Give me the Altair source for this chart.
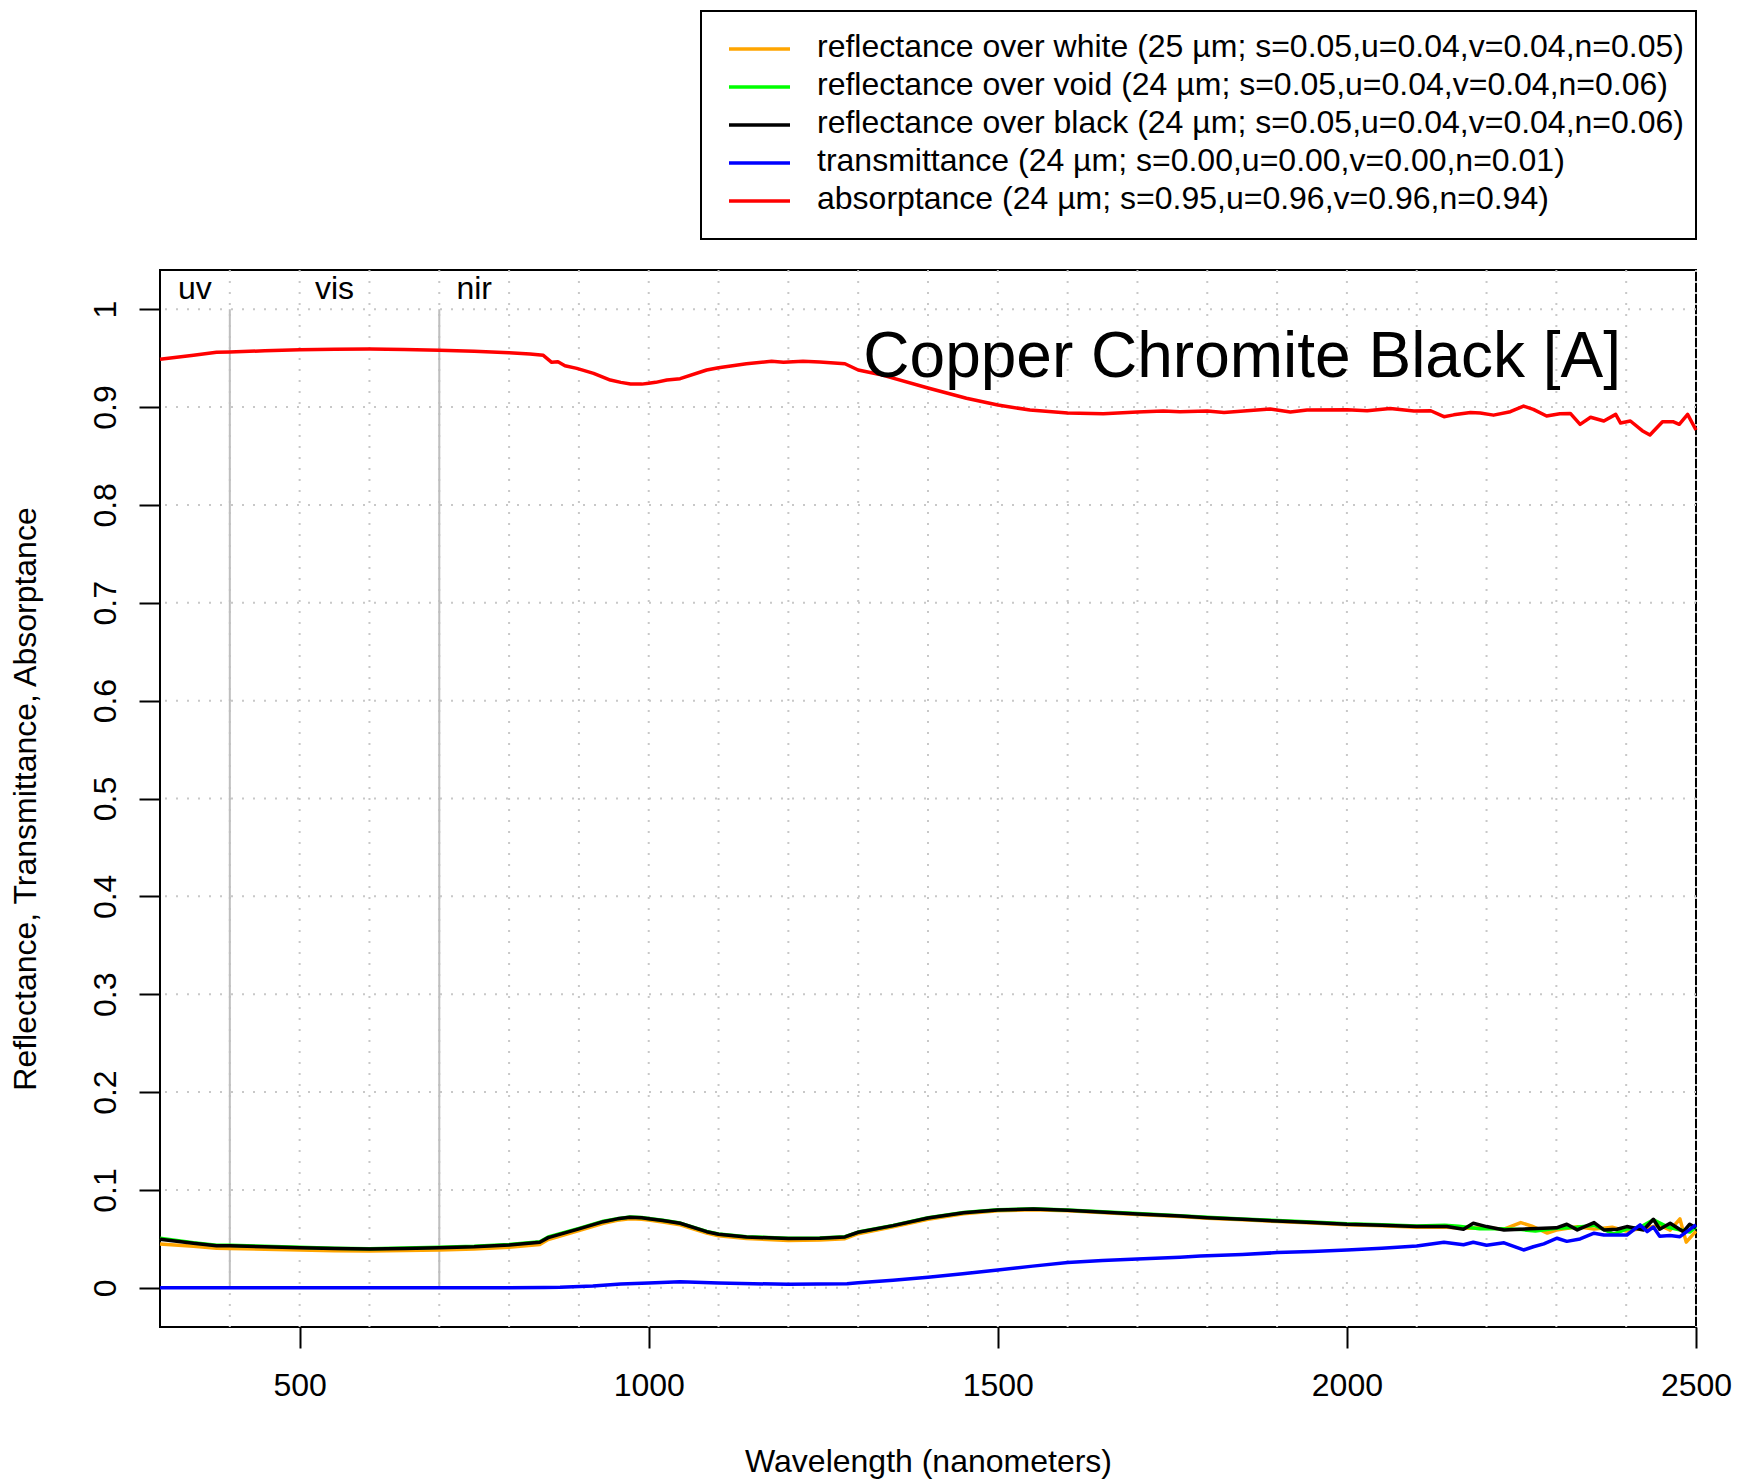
import altair as alt
import pandas as pd

# ---- spectra (wavelength in nm, fraction) ----
wl_white = [300, 348, 381, 400, 450, 500, 550, 600, 650, 700, 750, 800, 844, 856, 900, 935, 955, 973, 990,
            1000, 1020, 1045, 1083, 1100, 1140, 1200, 1245, 1281, 1300, 1350, 1400, 1451, 1500, 1551, 1600,
            1700, 1761, 1800, 1850, 1900, 1950, 2000, 2050, 2100, 2143, 2167, 2200, 2225, 2249, 2265,
            2287, 2300, 2330, 2354, 2380, 2400, 2425, 2448, 2463, 2477, 2486, 2500]
refl_white = [.0449, .0425, .0405, .0403, .0395, .0387, .0380, .0377, .0381, .0388, .0396, .0414, .0444,
              .0493, .0585, .0660, .0690, .0706, .0702, .0693, .0673, .0645, .0560, .0533, .0503, .0485,
              .0488, .0502, .0553, .0623, .0701, .0757, .0787, .0798, .0787, .0750, .0730, .0712, .0695,
              .0677, .0662, .0645, .0635, .0620, .0618, .0608, .0615, .0600, .0667, .0630, .0560, .0590,
              .0625, .0600, .0620, .0580, .0610, .0640, .0590, .0705, .0467, .0580]

wl_void = [300, 348, 381, 400, 450, 500, 550, 600, 650, 700, 750, 800, 844, 856, 900, 935, 955, 973, 990,
           1000, 1020, 1045, 1083, 1100, 1140, 1200, 1245, 1281, 1300, 1350, 1400, 1451, 1500, 1551, 1600,
           1700, 1761, 1800, 1850, 1900, 1950, 2000, 2050, 2100, 2140, 2160, 2190, 2220, 2250, 2270,
           2300, 2330, 2354, 2382, 2400, 2420, 2439, 2460, 2491, 2500]
refl_void = [.0506, .0460, .0436, .0435, .0424, .0414, .0405, .0400, .0406, .0414, .0424, .0442, .0472,
             .0520, .0608, .0680, .0707, .0723, .0718, .0709, .0690, .0662, .0577, .0550, .0523, .0506,
             .0509, .0522, .0570, .0638, .0716, .0770, .0798, .0808, .0796, .0759, .0738, .0721, .0704,
             .0688, .0673, .0655, .0645, .0632, .0640, .0630, .0605, .0605, .0595, .0580, .0610, .0620,
             .0640, .0550, .0600, .0620, .0695, .0620, .0570, .0625]

wl_black = [300, 348, 381, 400, 450, 500, 550, 600, 650, 700, 750, 800, 844, 856, 900, 935, 955, 973, 990,
            1000, 1020, 1045, 1083, 1100, 1140, 1200, 1245, 1281, 1300, 1350, 1400, 1451, 1500, 1551, 1600,
            1700, 1761, 1800, 1850, 1900, 1950, 2000, 2050, 2100, 2143, 2167, 2181, 2200, 2225, 2263,
            2300, 2315, 2330, 2354, 2368, 2387, 2401, 2425, 2439, 2448, 2463, 2482, 2491, 2500]
refl_black = [.0496, .0455, .0431, .0431, .0420, .0411, .0402, .0397, .0403, .0411, .0420, .0438, .0466,
              .0513, .0602, .0676, .0705, .0721, .0716, .0707, .0688, .0660, .0574, .0547, .0520, .0503,
              .0506, .0520, .0568, .0636, .0714, .0768, .0796, .0806, .0793, .0755, .0735, .0717, .0700,
              .0683, .0668, .0650, .0640, .0626, .0626, .0598, .0660, .0626, .0592, .0603, .0613, .0650,
              .0592, .0667, .0592, .0599, .0626, .0592, .0701, .0599, .0660, .0574, .0650, .0613]

wl_trans = [300, 400, 500, 600, 700, 800, 850, 873, 920, 960, 1000, 1045, 1100, 1150, 1200, 1284, 1300,
            1350, 1400, 1450, 1500, 1550, 1600, 1650, 1700, 1761, 1790, 1850, 1900, 1950, 2000, 2050,
            2100, 2139, 2167, 2181, 2200, 2225, 2253, 2267, 2282, 2301, 2315, 2334, 2354, 2368, 2387,
            2401, 2420, 2430, 2439, 2448, 2463, 2477, 2500]
trans = [0, 0, 0, 0, 0, 0, .0003, .0006, .0020, .0040, .0050, .0063, .0050, .0042, .0037, .0043, .0053,
         .0078, .0108, .0145, .0183, .0222, .0258, .0280, .0295, .0313, .0326, .0342, .0360, .0372, .0387,
         .0405, .0428, .0466, .0440, .0466, .0435, .0460, .0387, .0420, .0450, .0507, .0475, .0500, .0558,
         .0540, .0540, .0540, .0643, .0575, .0622, .0528, .0535, .0523, .0643]

wl_abs = [300, 348, 381, 400, 450, 500, 550, 600, 650, 700, 750, 800, 830, 849, 861, 870, 880, 897, 921,
          945, 960, 974, 990, 1000, 1010, 1026, 1045, 1083, 1100, 1140, 1176, 1193, 1221, 1245, 1281, 1300,
          1331, 1400, 1455, 1500, 1546, 1600, 1651, 1700, 1737, 1761, 1800, 1824, 1857, 1890, 1919, 1943,
          2000, 2029, 2062, 2096, 2120, 2139, 2153, 2177, 2191, 2210, 2234, 2253, 2267, 2286, 2305, 2320,
          2334, 2349, 2368, 2385, 2392, 2406, 2423, 2434, 2452, 2467, 2476, 2488, 2500]
absorb = [.9487, .9528, .9559, .9562, .9575, .9586, .9590, .9592, .9587, .9579, .9570, .9555, .9542, .9528,
          .9457, .9462, .9422, .9395, .9344, .9276, .9252, .9235, .9234, .9242, .9252, .9276, .9290, .9378,
          .9402, .9442, .9467, .9457, .9467, .9460, .9442, .9378, .9333, .9194, .9089, .9020, .8969, .8939,
          .8932, .8949, .8959, .8952, .8959, .8945, .8962, .8980, .8949, .8970, .8973, .8962, .8986, .8959,
          .8962, .8901, .8920, .8945, .8938, .8917, .8952, .9010, .8976, .8908, .8932, .8935, .8823, .8895,
          .8857, .8925, .8836, .8857, .8758, .8714, .8850, .8850, .8823, .8925, .8765]

series_labels = [
    "reflectance over white (25 µm; s=0.05,u=0.04,v=0.04,n=0.05)",
    "reflectance over void (24 µm; s=0.05,u=0.04,v=0.04,n=0.06)",
    "reflectance over black (24 µm; s=0.05,u=0.04,v=0.04,n=0.06)",
    "transmittance (24 µm; s=0.00,u=0.00,v=0.00,n=0.01)",
    "absorptance (24 µm; s=0.95,u=0.96,v=0.96,n=0.94)",
]
series_colors = ["#FFA500", "#00FF00", "#000000", "#0000FF", "#FF0000"]
series_data = [(wl_white, refl_white), (wl_void, refl_void), (wl_black, refl_black),
               (wl_trans, trans), (wl_abs, absorb)]

grid_x = list(range(400, 2501, 100))
grid_y = [0, 0.1, 0.2, 0.3, 0.4, 0.5, 0.6, 0.7, 0.8, 0.9, 1]
x_ticks = [500, 1000, 1500, 2000, 2500]
region_bounds = [400, 700]
region_names = ["uv", "vis", "nir"]
region_centers = [350, 550, 750]
title_text = "Copper Chromite Black [A]"

# ---- layout ----
FONT = "Liberation Sans"
W, H = 1536, 1057
PAD = {"left": 160, "top": 270, "right": 49, "bottom": 154}
X_DOM = [300, 2500]
Y_DOM = [-0.04, 1.04]


def y_at(canvas_px):
    """Data value that sits at a given canvas row."""
    return Y_DOM[1] - (canvas_px - PAD["top"]) / H * (Y_DOM[1] - Y_DOM[0])


xs = alt.Scale(domain=X_DOM, nice=False, zero=False)
ys = alt.Scale(domain=Y_DOM, nice=False, zero=False)

x_axis = alt.Axis(values=x_ticks, format="d", grid=False, domain=False, tickColor="black",
                  tickWidth=2, tickSize=21, labelFont=FONT, labelFontSize=32, labelColor="black",
                  labelBaseline="alphabetic", labelPadding=47, labelFlush=False, labelOverlap=False,
                  title="Wavelength (nanometers)", titleFont=FONT, titleFontSize=32,
                  titleFontWeight="normal", titleColor="black", titleX=W / 2, titleY=144,
                  titleAlign="center", titleBaseline="alphabetic")
y_axis = alt.Axis(values=grid_y, format="~g", grid=False, domain=False, tickColor="black",
                  tickWidth=2, tickSize=21, labelFont=FONT, labelFontSize=32, labelColor="black",
                  labelAngle=270, labelAlign="center", labelBaseline="alphabetic", labelPadding=24,
                  labelFlush=False, labelOverlap=False,
                  title="Reflectance, Transmittance, Absorptance", titleFont=FONT, titleFontSize=32,
                  titleFontWeight="normal", titleColor="black", titleAngle=270, titleX=-125,
                  titleY=H / 2, titleAlign="center", titleBaseline="alphabetic")


def X(field):
    return alt.X(field, type="quantitative", scale=xs, axis=x_axis)


def Y(field):
    return alt.Y(field, type="quantitative", scale=ys, axis=y_axis)


layers = []

# dotted grid
gx = alt.Chart(pd.DataFrame({"x": grid_x})).mark_rule(
    color="#c8c8c8", strokeWidth=2, strokeDash=[2, 9]).encode(x=X("x"))
gy = alt.Chart(pd.DataFrame({"y": grid_y})).mark_rule(
    color="#c8c8c8", strokeWidth=2, strokeDash=[2, 9]).encode(y=Y("y"))
layers += [gx, gy]

# uv / vis / nir boundaries
bounds = alt.Chart(pd.DataFrame({"x": region_bounds, "y0": [0] * 2, "y1": [1] * 2})).mark_rule(
    color="#bebebe", strokeWidth=2).encode(x=X("x"), y=Y("y0"), y2="y1:Q")
layers.append(bounds)

# spectra
for (wl, vals), color in zip(series_data, series_colors):
    d = pd.DataFrame({"wl": wl, "v": vals})
    layers.append(
        alt.Chart(d).mark_line(color=color, strokeWidth=3.5, strokeJoin="round").encode(
            x=X("wl"), y=Y("v"), order="wl:Q"))

# region labels
reg = alt.Chart(pd.DataFrame({"x": region_centers, "y": [y_at(299)] * 3, "t": region_names})).mark_text(
    font=FONT, fontSize=32, color="black", align="center", baseline="alphabetic").encode(
    x=X("x"), y=Y("y"), text="t:N")
layers.append(reg)

# sample name
ttl = alt.Chart(pd.DataFrame({"x": [1850], "y": [y_at(376.5)], "t": [title_text]})).mark_text(
    font=FONT, fontSize=64, color="black", align="center", baseline="alphabetic").encode(
    x=X("x"), y=Y("y"), text="t:N")
layers.append(ttl)

# legend box
leg_rows = [y_at(49 + 38 * i) for i in range(len(series_labels))]
leg_df = pd.DataFrame({"label": series_labels, "color": series_colors, "y": leg_rows})
box = alt.Chart(pd.DataFrame({"k": [0]})).mark_rect(
    fill="white", stroke="black", strokeWidth=2).encode(
    x=alt.value(541), x2=alt.value(1536), y=alt.value(-259), y2=alt.value(-31))
sym = alt.Chart(leg_df).mark_rule(strokeWidth=3.5).encode(
    x=alt.value(569), x2=alt.value(630), y=Y("y"),
    color=alt.Color("color:N", scale=None))
lab = alt.Chart(leg_df).mark_text(
    font=FONT, fontSize=32, color="black", align="left", baseline="alphabetic", dy=8).encode(
    x=alt.value(657), y=Y("y"), text="label:N")
layers += [box, sym, lab]

chart = alt.layer(*layers).properties(
    width=W, height=H, padding=PAD, autosize=alt.AutoSizeParams(type="none"),
    background="white",
).configure_view(stroke="black", strokeWidth=2)

chart.save("out.html", embed_options={"renderer": "svg", "actions": False})
